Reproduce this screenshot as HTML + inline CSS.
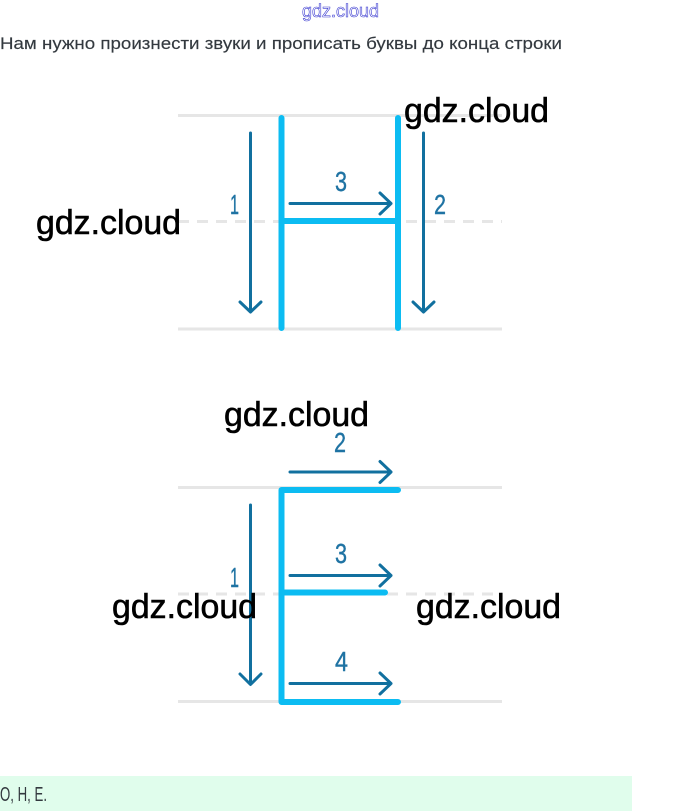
<!DOCTYPE html>
<html>
<head>
<meta charset="utf-8">
<style>
html,body{margin:0;padding:0;background:#fff;width:680px;height:811px;overflow:hidden}
svg{display:block}
text{font-family:"Liberation Sans",sans-serif}
.w{font-size:34px;fill:#000;stroke:#000;stroke-width:.6}
.n{font-size:28px;fill:#1f73a3;stroke:#1f73a3;stroke-width:.4}
.g{stroke:#e6e6e6;stroke-width:3;fill:none}
.c{stroke:#0cbcf2;stroke-width:6;fill:none;stroke-linecap:round;stroke-linejoin:round}
.a{stroke:#11709f;stroke-width:3;fill:none;stroke-linecap:round;stroke-linejoin:round}
</style>
</head>
<body>
<svg width="680" height="811" viewBox="0 0 680 811" xmlns="http://www.w3.org/2000/svg">
<rect width="680" height="811" fill="#fff"/>
<text x="302" y="17" font-size="18" fill="#fff" stroke="#3a3ad0" stroke-width="0.6" textLength="77" lengthAdjust="spacingAndGlyphs">gdz.cloud</text>
<text x="0" y="49" font-size="17" fill="#33393f" stroke="#33393f" stroke-width=".15" textLength="562" lengthAdjust="spacingAndGlyphs">Нам нужно произнести звуки и прописать буквы до конца строки</text>

<!-- Letter H -->
<path class="g" d="M178 115.500H502M178 329H502"/>
<path class="g" d="M178 221.500H502" stroke-dasharray="11 8"/>
<path class="c" d="M281.500 118V328M398 118V328M281.500 221H398"/>
<path class="a" d="M250.500 133V311M240 302L250.500 312L261 302"/>
<path class="a" d="M423.500 133V311M413 302L423.500 312L434 302"/>
<path class="a" d="M290 203.500H391M380 193L391 203.500L380 214"/>
<text class="n" x="230" y="214" textLength="9" lengthAdjust="spacingAndGlyphs">1</text>
<text class="n" x="434" y="214" textLength="12" lengthAdjust="spacingAndGlyphs">2</text>
<text class="n" x="335" y="191" textLength="12" lengthAdjust="spacingAndGlyphs">3</text>

<!-- Letter E -->
<path class="g" d="M178 487.500H502M178 701.500H502"/>
<path class="g" d="M178 594H502" stroke-dasharray="11 8"/>
<path class="c" d="M398 490H281.500V702H398M281.500 592.500H385"/>
<path class="a" d="M250.500 505V684M240 674L250.500 684.500L261 674"/>
<path class="a" d="M290 472H391M380 461.500L391 472L380 482.500"/>
<path class="a" d="M290 575.500H391M380 565L391 575.500L380 586"/>
<path class="a" d="M290 683.500H391M380 673L391 683.500L380 694"/>
<text class="n" x="230" y="587" textLength="9" lengthAdjust="spacingAndGlyphs">1</text>
<text class="n" x="334" y="452" textLength="12" lengthAdjust="spacingAndGlyphs">2</text>
<text class="n" x="335" y="563" textLength="12" lengthAdjust="spacingAndGlyphs">3</text>
<text class="n" x="335" y="671" textLength="13" lengthAdjust="spacingAndGlyphs">4</text>

<!-- Watermarks -->
<text class="w" x="404" y="122" textLength="145" lengthAdjust="spacingAndGlyphs">gdz.cloud</text>
<text class="w" x="36" y="234" textLength="145" lengthAdjust="spacingAndGlyphs">gdz.cloud</text>
<text class="w" x="224" y="426" textLength="145" lengthAdjust="spacingAndGlyphs">gdz.cloud</text>
<text class="w" x="112" y="618" textLength="145" lengthAdjust="spacingAndGlyphs">gdz.cloud</text>
<text class="w" x="416" y="618" textLength="145" lengthAdjust="spacingAndGlyphs">gdz.cloud</text>

<!-- Answer -->
<rect x="0" y="776" width="632" height="35" fill="#e0fdec"/>
<text x="0" y="801" font-size="20" fill="#33393f" textLength="47" lengthAdjust="spacingAndGlyphs">О, Н, Е.</text>
</svg>
</body>
</html>
